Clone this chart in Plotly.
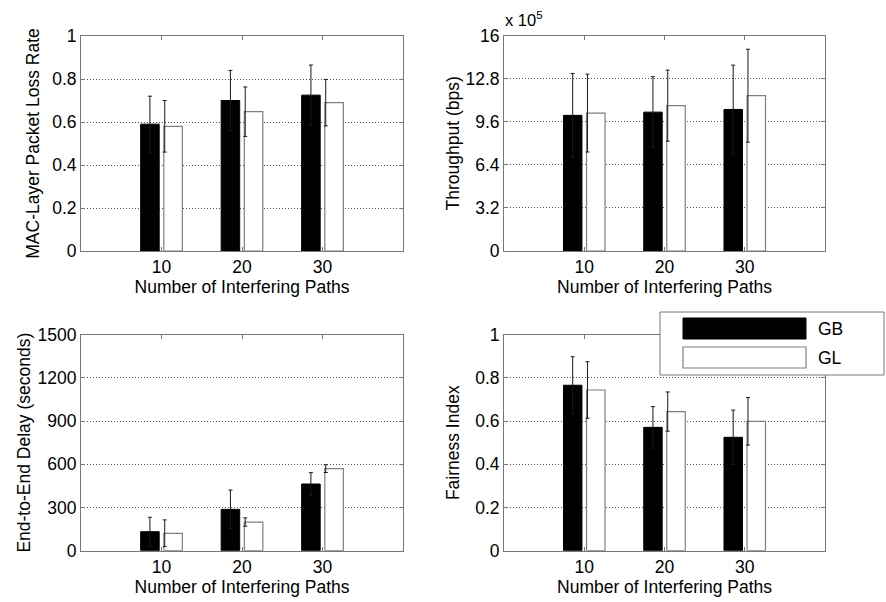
import plotly.graph_objects as go

# Number of interfering paths (x categories)
n_paths = [10, 20, 30]

# MAC-layer packet loss rate
loss_gb = [0.59, 0.70, 0.725]
loss_gb_err = [0.13, 0.14, 0.14]
loss_gl = [0.58, 0.648, 0.69]
loss_gl_err = [0.12, 0.115, 0.108]

# Throughput (bps)
tput_gb = [1.007e6, 1.031e6, 1.051e6]
tput_gb_err = [0.311e6, 0.263e6, 0.329e6]
tput_gl = [1.024e6, 1.079e6, 1.153e6]
tput_gl_err = [0.289e6, 0.264e6, 0.345e6]

# End-to-end delay (seconds)
delay_gb = [132, 287, 463]
delay_gb_err = [100, 134, 79]
delay_gl = [121, 199, 570]
delay_gl_err = [93, 29, 27]

# Fairness index
fair_gb = [0.766, 0.571, 0.525]
fair_gb_err = [0.132, 0.096, 0.126]
fair_gl = [0.744, 0.644, 0.599]
fair_gl_err = [0.131, 0.091, 0.110]

# Tick labels
x_ticks = [10, 20, 30]
loss_ticks = [0, 0.2, 0.4, 0.6, 0.8, 1]
loss_ticktext = ["0", "0.2", "0.4", "0.6", "0.8", "1"]
tput_ticks = [0, 3.2e5, 6.4e5, 9.6e5, 12.8e5, 16e5]
tput_ticktext = ["0", "3.2", "6.4", "9.6", "12.8", "16"]
delay_ticks = [0, 300, 600, 900, 1200, 1500]
delay_ticktext = ["0", "300", "600", "900", "1200", "1500"]
fair_ticks = [0, 0.2, 0.4, 0.6, 0.8, 1]
fair_ticktext = ["0", "0.2", "0.4", "0.6", "0.8", "1"]

W, H = 886, 602
FONT = "Liberation Sans, Arial, sans-serif"
FS = 17.5
AXIS_GRAY = "#777777"
EDGE_GRAY = "#7f7f7f"
ERR_COLOR = "#1a1a1a"


def px_x(p):
    return p / W


def px_y(p):
    return 1 - p / H


panels = [
    dict(gb=loss_gb, gbe=loss_gb_err, gl=loss_gl, gle=loss_gl_err,
         rng=[0, 1], tv=loss_ticks, tt=loss_ticktext,
         title="MAC-Layer Packet Loss Rate",
         xd=(81, 403), yd=(36, 251), standoff=8),
    dict(gb=tput_gb, gbe=tput_gb_err, gl=tput_gl, gle=tput_gl_err,
         rng=[0, 16e5], tv=tput_ticks, tt=tput_ticktext,
         title="Throughput (bps)",
         xd=(504, 825), yd=(35.5, 251), standoff=1),
    dict(gb=delay_gb, gbe=delay_gb_err, gl=delay_gl, gle=delay_gl_err,
         rng=[0, 1500], tv=delay_ticks, tt=delay_ticktext,
         title="End-to-End Delay (seconds)",
         xd=(81, 403), yd=(334.7, 550.7), standoff=2),
    dict(gb=fair_gb, gbe=fair_gb_err, gl=fair_gl, gle=fair_gl_err,
         rng=[0, 1], tv=fair_ticks, tt=fair_ticktext,
         title="Fairness Index",
         xd=(504, 825), yd=(334.7, 550.7), standoff=11),
]

# Error bar positions relative to each group centre
GB_ERR_SHIFT = -1.44
GL_ERR_SHIFT = 0.4

fig = go.Figure()
layout_axes = {}

for i, p in enumerate(panels, start=1):
    xa = "x" if i == 1 else f"x{i}"
    ya = "y" if i == 1 else f"y{i}"
    fig.add_trace(go.Bar(
        x=n_paths, y=p["gb"], name="GB", xaxis=xa, yaxis=ya,
        marker=dict(color="black", line=dict(color="black", width=1)),
        showlegend=False, hoverinfo="skip"))
    fig.add_trace(go.Bar(
        x=n_paths, y=p["gl"], name="GL", xaxis=xa, yaxis=ya,
        marker=dict(color="white", line=dict(color=EDGE_GRAY, width=1.2)),
        showlegend=False, hoverinfo="skip"))
    fig.add_trace(go.Scatter(
        x=[v + GB_ERR_SHIFT for v in n_paths], y=p["gb"], xaxis=xa, yaxis=ya,
        mode="markers", marker=dict(size=1, color="rgba(0,0,0,0)"),
        error_y=dict(type="data", array=p["gbe"], color=ERR_COLOR,
                     thickness=1, width=2),
        showlegend=False, hoverinfo="skip"))
    fig.add_trace(go.Scatter(
        x=[v + GL_ERR_SHIFT for v in n_paths], y=p["gl"], xaxis=xa, yaxis=ya,
        mode="markers", marker=dict(size=1, color="rgba(0,0,0,0)"),
        error_y=dict(type="data", array=p["gle"], color=ERR_COLOR,
                     thickness=1, width=2),
        showlegend=False, hoverinfo="skip"))

    xkey = "xaxis" if i == 1 else f"xaxis{i}"
    ykey = "yaxis" if i == 1 else f"yaxis{i}"
    layout_axes[xkey] = dict(
        domain=[px_x(p["xd"][0]), px_x(p["xd"][1])], anchor=ya,
        range=[0, 40], tickmode="array", tickvals=x_ticks,
        ticktext=[str(v) for v in x_ticks],
        ticks="inside", ticklen=4, tickcolor=AXIS_GRAY,
        showline=True, mirror="ticks", linecolor=AXIS_GRAY, linewidth=1,
        showgrid=False, zeroline=False,
        tickfont=dict(family=FONT, size=FS, color="black"),
        title=dict(text="Number of Interfering Paths", standoff=4,
                   font=dict(family=FONT, size=FS, color="black")),
        automargin=False, fixedrange=True)
    layout_axes[ykey] = dict(
        domain=[px_y(p["yd"][1]), px_y(p["yd"][0])], anchor=xa,
        range=p["rng"], tickmode="array", tickvals=p["tv"], ticktext=p["tt"],
        ticks="inside", ticklen=4, tickcolor=AXIS_GRAY,
        showline=True, mirror="ticks", linecolor=AXIS_GRAY, linewidth=1,
        showgrid=True, gridcolor="#555555", gridwidth=1, griddash="1px,2px",
        zeroline=False,
        tickfont=dict(family=FONT, size=FS, color="black"),
        title=dict(text=p["title"], standoff=p["standoff"],
                   font=dict(family=FONT, size=FS, color="black")),
        automargin=False, fixedrange=True)

# Legend box drawn over the top-right corner of the fairness panel
legend_box = (660, 312, 884, 375)
gb_swatch = (683, 318, 806, 339)
gl_swatch = (683, 347, 806, 368)
shapes = [
    dict(type="rect", xref="paper", yref="paper", layer="above",
         x0=px_x(legend_box[0]), x1=px_x(legend_box[2]),
         y0=px_y(legend_box[3]), y1=px_y(legend_box[1]),
         fillcolor="white", line=dict(color=AXIS_GRAY, width=1)),
    dict(type="rect", xref="paper", yref="paper", layer="above",
         x0=px_x(gb_swatch[0]), x1=px_x(gb_swatch[2]),
         y0=px_y(gb_swatch[3]), y1=px_y(gb_swatch[1]),
         fillcolor="black", line=dict(color="black", width=1)),
    dict(type="rect", xref="paper", yref="paper", layer="above",
         x0=px_x(gl_swatch[0]), x1=px_x(gl_swatch[2]),
         y0=px_y(gl_swatch[3]), y1=px_y(gl_swatch[1]),
         fillcolor="white", line=dict(color=EDGE_GRAY, width=1.2)),
]
annotations = [
    dict(text="GB", xref="paper", yref="paper", x=px_x(816), y=px_y(329),
         xanchor="left", yanchor="middle", showarrow=False,
         font=dict(family=FONT, size=FS, color="black")),
    dict(text="GL", xref="paper", yref="paper", x=px_x(816), y=px_y(358),
         xanchor="left", yanchor="middle", showarrow=False,
         font=dict(family=FONT, size=FS, color="black")),
    # Exponent for the throughput axis
    dict(text="x 10<sup>5</sup>", xref="paper", yref="paper",
         x=px_x(503), y=px_y(31), xanchor="left", yanchor="bottom",
         showarrow=False, font=dict(family=FONT, size=FS - 1, color="black")),
]

fig.update_layout(
    width=W, height=H,
    margin=dict(l=0, r=0, t=0, b=0),
    paper_bgcolor="white", plot_bgcolor="white",
    barmode="group", bargap=0.425, bargroupgap=0.2,
    font=dict(family=FONT, size=FS, color="black"),
    shapes=shapes, annotations=annotations,
    showlegend=False,
    **layout_axes,
)

fig.write_html("out.html")
